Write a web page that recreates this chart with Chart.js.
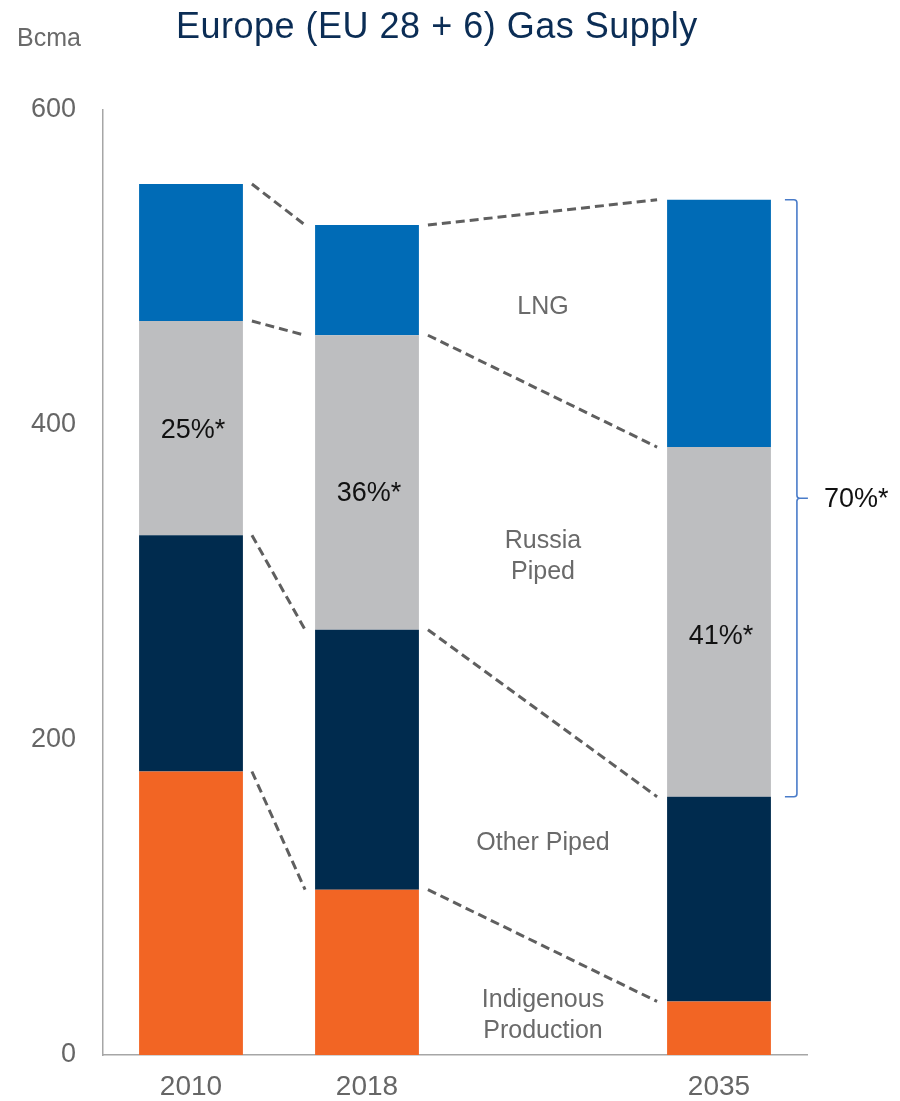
<!DOCTYPE html>
<html><head><meta charset="utf-8">
<script src="https://cdn.jsdelivr.net/npm/chart.js@4/dist/chart.umd.min.js"></script>
<style>html,body{margin:0;padding:0;background:#fff}#wrap{width:900px;height:1101px;position:relative}</style>
</head><body><div id="wrap"><canvas id="c" width="900" height="1101"></canvas></div>
<script>
// ---- data ----
const categories = ['2010', '2018', '', '2035'];
const indigenousProduction = [180, 105, null, 34];
const otherPiped = [150, 165, null, 130];
const russiaPiped = [136, 187, null, 222];
const lng = [87, 70, null, 157];
const seriesNames = ['Indigenous Production', 'Other Piped', 'Russia Piped', 'LNG'];
const columnLabels = [['Indigenous', 'Production'], ['Other Piped'], ['Russia', 'Piped'], ['LNG']];
const russiaShareLabels = ['25%*', '36%*', '', '41%*'];
const bracketLabel = '70%*';
const yTickValues = [0, 200, 400, 600];
const titleText = 'Europe (EU 28 + 6) Gas Supply';
const unitText = 'Bcma';

const FONT = '"Liberation Sans", Arial, Helvetica, sans-serif';
const colors = ['#F26524', '#002B4E', '#BDBEC0', '#006BB6'];
const seriesData = [indigenousProduction, otherPiped, russiaPiped, lng];

function cumAt(i, k) { // cumulative sum of series 0..k at category i
  let s = 0;
  for (let j = 0; j <= k; j++) s += (seriesData[j][i] || 0);
  return s;
}

const overlay = {
  id: 'overlay',
  afterDatasetsDraw(chart) {
    const ctx = chart.ctx, y = chart.scales.y, x = chart.scales.x;
    const metas = [0,1,2,3].map(k => chart.getDatasetMeta(k));
    const edge = (i) => { const el = metas[0].data[i]; return {l: el.x - el.width/2, r: el.x + el.width/2, c: el.x}; };
    // connectors
    ctx.save();
    ctx.strokeStyle = '#5f5f5f';
    ctx.lineWidth = 3;
    ctx.setLineDash([9, 5]);
    [[0,1],[1,3]].forEach(([a,b]) => {
      const ea = edge(a), eb = edge(b);
      for (let k = 0; k < 4; k++) {
        ctx.beginPath();
        ctx.moveTo(ea.r + 9, y.getPixelForValue(cumAt(a,k)));
        ctx.lineTo(eb.l - 10, y.getPixelForValue(cumAt(b,k)));
        ctx.stroke();
      }
    });
    ctx.restore();

    // share labels inside Russia segments
    ctx.save();
    ctx.font = '27px ' + FONT;
    ctx.fillStyle = '#111111';
    ctx.textAlign = 'center';
    ctx.textBaseline = 'middle';
    const pctNudge = [2, 11, 0, 15];
    russiaShareLabels.forEach((t, i) => {
      if (!t) return;
      const e = edge(i);
      const yc = (y.getPixelForValue(cumAt(i,1)) + y.getPixelForValue(cumAt(i,2))) / 2 + pctNudge[i];
      ctx.fillText(t, e.c + 2, yc);
    });
    ctx.restore();

    // column labels in the empty category
    ctx.save();
    ctx.font = '25px ' + FONT;
    ctx.fillStyle = '#6a6a6a';
    ctx.textAlign = 'center';
    ctx.textBaseline = 'middle';
    const cx = x.getPixelForValue(2);
    const lblNudge = [15, 14, 4, 5];
    const lh = 31;
    columnLabels.forEach((lines, k) => {
      const lo = k === 0 ? 0 : (cumAt(1,k-1) + cumAt(3,k-1)) / 2;
      const hi = (cumAt(1,k) + cumAt(3,k)) / 2;
      const yc = y.getPixelForValue((lo + hi) / 2) + lblNudge[k];
      lines.forEach((ln, j) => {
        ctx.fillText(ln, cx, yc + (j - (lines.length - 1) / 2) * lh);
      });
    });
    ctx.restore();

    // bracket on 2035
    ctx.save();
    const e3 = edge(3);
    const top = y.getPixelForValue(cumAt(3,3));
    const bot = y.getPixelForValue(cumAt(3,1));
    const mid = (top + bot) / 2;
    const bx = e3.r + 26;
    ctx.strokeStyle = '#4A7CC9';
    ctx.lineWidth = 1.6;
    ctx.beginPath();
    ctx.moveTo(bx - 12, top);
    ctx.lineTo(bx - 3, top);
    ctx.quadraticCurveTo(bx, top, bx, top + 3);
    ctx.lineTo(bx, mid - 3);
    ctx.quadraticCurveTo(bx, mid, bx + 3, mid);
    ctx.lineTo(bx + 11, mid);
    ctx.moveTo(bx + 3, mid);
    ctx.quadraticCurveTo(bx, mid, bx, mid + 3);
    ctx.lineTo(bx, bot - 3);
    ctx.quadraticCurveTo(bx, bot, bx - 3, bot);
    ctx.lineTo(bx - 12, bot);
    ctx.stroke();
    ctx.font = '27px ' + FONT;
    ctx.fillStyle = '#111111';
    ctx.textAlign = 'left';
    ctx.textBaseline = 'middle';
    ctx.fillText(bracketLabel, bx + 27, mid + 1);
    ctx.restore();
  },
  afterDraw(chart) {
    const ctx = chart.ctx;
    ctx.save();
    ctx.textBaseline = 'alphabetic';
    ctx.textAlign = 'left';
    ctx.fillStyle = '#0B2D55';
    ctx.font = '36px ' + FONT;
    try { ctx.letterSpacing = '0.5px'; } catch (e) {}
    ctx.fillText(titleText, 176, 38);
    try { ctx.letterSpacing = '0px'; } catch (e) {}
    ctx.fillStyle = '#6a6a6a';
    ctx.font = '25px ' + FONT;
    ctx.fillText(unitText, 17, 46);
    ctx.restore();
  }
};

new Chart(document.getElementById('c'), {
  type: 'bar',
  data: {
    labels: categories,
    datasets: seriesData.map((d, k) => ({
      label: seriesNames[k],
      data: d,
      backgroundColor: colors[k],
      borderWidth: 0,
      categoryPercentage: 1,
      barPercentage: 0.59
    }))
  },
  options: {
    responsive: false,
    animation: false,
    devicePixelRatio: 1,
    layout: { padding: { top: 110, right: 93, left: 0, bottom: 0 } },
    plugins: { legend: { display: false }, tooltip: { enabled: false }, title: { display: false } },
    scales: {
      x: {
        stacked: true,
        grid: { display: false, drawTicks: false },
        border: { display: true, color: '#a6a6a6', width: 1.5 },
        ticks: { color: '#666666', font: { family: FONT, size: 28 }, padding: 15, maxRotation: 0, autoSkip: false },
        afterFit(s) { s.height = 46; }
      },
      y: {
        stacked: true,
        min: 0,
        max: yTickValues[yTickValues.length - 1],
        grid: { display: false, drawTicks: false },
        border: { display: true, color: '#a6a6a6', width: 1.5 },
        ticks: { color: '#666666', font: { family: FONT, size: 27 }, padding: 27 },
        afterBuildTicks(s) { s.ticks = yTickValues.map(v => ({ value: v })); },
        afterFit(s) { s.width = 103; }
      }
    }
  },
  plugins: [overlay]
});
</script>
</body></html>
